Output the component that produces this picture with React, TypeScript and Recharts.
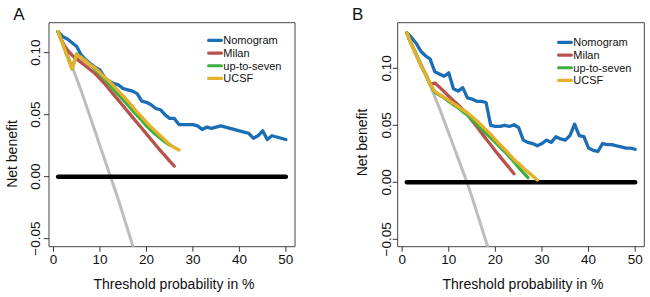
import React from 'react';
import { LineChart, Line, XAxis, YAxis, ReferenceArea, Legend } from 'recharts';

const FONT = '"Liberation Sans", Arial, Helvetica, sans-serif';

// thresholds (%)
const thresholds = [
  1, 2, 3, 4, 5, 6, 7, 8, 9, 10, 11, 12, 13, 14, 15, 16, 17, 18, 19, 20,
  21, 22, 23, 24, 25, 26, 27, 28, 29, 30, 31, 32, 33, 34, 35, 36, 37, 38, 39, 40,
  41, 42, 43, 44, 45, 46, 47, 48, 49, 50,
];

const xTicks = [0, 10, 20, 30, 40, 50];
const yTicks = [-0.05, 0, 0.05, 0.1];
const yTickLabels = ['\u22120.05', '0.00', '0.05', '0.10'];

const seriesNames = ['Nomogram', 'Milan', 'up-to-seven', 'UCSF'];
const seriesColors = ['#1b6db5', '#b8524d', '#3bb03e', '#e5b02a'];

// ---------- Panel A ----------
const nomogramA = [
  0.117, 0.113, 0.111, 0.108, 0.105, 0.098, 0.094, 0.091, 0.088, 0.086,
  0.080, 0.077, 0.075, 0.074, 0.071, 0.070, 0.069, 0.067, 0.061, 0.060,
  0.058, 0.055, 0.054, 0.050, 0.047, 0.047, 0.042, 0.042, 0.042, 0.042,
  0.041, 0.038, 0.040, 0.039, 0.040, 0.041, 0.040, 0.039, 0.038, 0.037,
  0.036, 0.035, 0.031, 0.033, 0.037, 0.030, 0.033, 0.032, 0.031, 0.030,
];
const milanA = [
  0.117, 0.108, 0.102, 0.098, 0.095, 0.092, 0.089, 0.086, 0.083, 0.079,
  0.075, 0.0705, 0.066, 0.0615, 0.057, 0.0525, 0.048, 0.0435, 0.039, 0.0345,
  0.030, 0.0255, 0.021, 0.017, 0.0125, 0.0085,
];
const upToSevenA = [
  0.117, 0.107, 0.097, 0.087, 0.099, 0.096, 0.093, 0.090, 0.0866, 0.0825,
  0.0785, 0.0745, 0.070, 0.066, 0.062, 0.0578, 0.0535, 0.0495, 0.0455, 0.041,
  0.0375, 0.034, 0.031, 0.028, 0.0255,
];
const ucsfA = [
  0.117, 0.107, 0.097, 0.087, 0.0985, 0.096, 0.093, 0.090, 0.0875, 0.084,
  0.080, 0.077, 0.073, 0.069, 0.065, 0.061, 0.0565, 0.052, 0.048, 0.044,
  0.040, 0.0365, 0.033, 0.0295, 0.026, 0.0235, 0.0215,
];
const treatAllA = [
  0.117, 0.108, 0.099, 0.089, 0.079, 0.069, 0.058, 0.047, 0.036, 0.025,
  0.014, 0.003, -0.008, -0.019, -0.031, -0.043, -0.055, -0.067,
];
const treatNoneA = [
  0, 0, 0, 0, 0, 0, 0, 0, 0, 0, 0, 0, 0, 0, 0, 0, 0, 0, 0, 0, 0, 0, 0, 0, 0,
  0, 0, 0, 0, 0, 0, 0, 0, 0, 0, 0, 0, 0, 0, 0, 0, 0, 0, 0, 0, 0, 0, 0, 0, 0,
];

// ---------- Panel B ----------
const nomogramB = [
  0.131, 0.127, 0.122, 0.115, 0.111, 0.108, 0.097, 0.095, 0.093, 0.096,
  0.082, 0.080, 0.083, 0.074, 0.073, 0.071, 0.071, 0.070, 0.050, 0.049,
  0.049, 0.050, 0.049, 0.0505, 0.048, 0.037, 0.035, 0.034, 0.032, 0.034,
  0.037, 0.035, 0.040, 0.038, 0.037, 0.041, 0.051, 0.041, 0.040, 0.030,
  0.028, 0.027, 0.034, 0.033, 0.033, 0.032, 0.031, 0.030, 0.030, 0.029,
];
const milanB = [
  0.131, 0.121, 0.112, 0.103, 0.095, 0.086, 0.087, 0.0835, 0.0795, 0.0755,
  0.0715, 0.068, 0.064, 0.0595, 0.054, 0.049, 0.0435, 0.038, 0.033, 0.0275,
  0.0225, 0.0175, 0.0125, 0.0075,
];
const upToSevenB = [
  0.131, 0.121, 0.112, 0.103, 0.095, 0.086, 0.079, 0.0765, 0.074, 0.071,
  0.068, 0.0655, 0.062, 0.059, 0.055, 0.051, 0.047, 0.043, 0.039, 0.035,
  0.031, 0.027, 0.0225, 0.018, 0.013, 0.0085, 0.004,
];
const ucsfB = [
  0.131, 0.121, 0.112, 0.103, 0.095, 0.086, 0.080, 0.077, 0.0745, 0.072,
  0.069, 0.0665, 0.0635, 0.061, 0.0575, 0.054, 0.050, 0.046, 0.042, 0.0375,
  0.033, 0.029, 0.0245, 0.020, 0.0165, 0.0125, 0.009, 0.0055, 0.002,
];
const treatAllB = [
  0.131, 0.122, 0.113, 0.104, 0.095, 0.085, 0.075, 0.065, 0.054, 0.043,
  0.032, 0.021, 0.010, -0.001, -0.013, -0.026, -0.039, -0.052, -0.065,
];
const treatNoneB = [
  0, 0, 0, 0, 0, 0, 0, 0, 0, 0, 0, 0, 0, 0, 0, 0, 0, 0, 0, 0, 0, 0, 0, 0, 0,
  0, 0, 0, 0, 0, 0, 0, 0, 0, 0, 0, 0, 0, 0, 0, 0, 0, 0, 0, 0, 0, 0, 0, 0, 0,
];

function buildRows(series: Record<string, number[]>) {
  return thresholds.map((t, i) => {
    const row: Record<string, number | undefined> = { t };
    Object.keys(series).forEach((k) => {
      row[k] = series[k][i];
    });
    return row;
  });
}

const rowsA = buildRows({
  all: treatAllA,
  none: treatNoneA,
  s0: nomogramA,
  s1: milanA,
  s2: upToSevenA,
  s3: ucsfA,
});
const rowsB = buildRows({
  all: treatAllB,
  none: treatNoneB,
  s0: nomogramB,
  s1: milanB,
  s2: upToSevenB,
  s3: ucsfB,
});

const X_DOMAIN: [number, number] = [-0.96, 51.96];
const ROW_H = 12.7;
const LEGEND_FS = 11;

type PanelProps = {
  rows: Record<string, number | undefined>[];
  letter: string;
  plotLeft: number;
  plotRight: number;
  yDomain: [number, number];
  yTickMargin: number;
  yLabelX: number;
  yLabelCenterY: number;
  legendLeft: number;
  legendTop: number;
  letterLeft: number;
};

const LegendBox = () => (
  <svg width={100} height={ROW_H * 4 + 2} style={{ display: 'block', overflow: 'visible' }}>
    {seriesNames.map((n, i) => {
      const cy = ROW_H / 2 + i * ROW_H;
      return (
        <g key={n}>
          <line
            x1={1.6}
            x2={14.4}
            y1={cy}
            y2={cy}
            stroke={seriesColors[i]}
            strokeWidth={3.2}
            strokeLinecap="round"
          />
          <text x={16.3} y={cy + 3.9} fontSize={LEGEND_FS} fontFamily={FONT} fill="#111">
            {n}
          </text>
        </g>
      );
    })}
  </svg>
);

function Panel(p: PanelProps) {
  const W = 325;
  const H = 297;
  const top = 22.7;
  const bottom = 246.7;
  const xAxisH = 30;
  const YTick = (props: any) => {
    const { x, y, payload } = props;
    const idx = yTicks.indexOf(payload.value);
    const label = idx >= 0 ? yTickLabels[idx] : String(payload.value);
    return (
      <text
        x={x}
        y={y}
        transform={`rotate(-90 ${x} ${y})`}
        textAnchor="middle"
        fontSize={13.5}
        fontFamily={FONT}
        fill="#111"
      >
        {label}
      </text>
    );
  };
  return (
    <div style={{ position: 'relative', width: W, height: H }}>
      <LineChart
        width={W}
        height={H}
        data={p.rows}
        margin={{ top, right: W - p.plotRight, bottom: H - bottom - xAxisH, left: 0 }}
      >
        <XAxis
          dataKey="t"
          type="number"
          domain={X_DOMAIN}
          allowDataOverflow
          ticks={xTicks}
          interval={0}
          height={xAxisH}
          axisLine={false}
          tickLine={{ stroke: '#333', strokeWidth: 1 }}
          tickSize={5}
          tickMargin={2.6}
          tick={{ fontSize: 13.5, fontFamily: FONT, fill: '#111' }}
          label={{
            content: (lp: any) => {
              const vb = lp.viewBox || {};
              const cx = (vb.x ?? 0) + (vb.width ?? 0) / 2 + 2;
              const by = (vb.y ?? 0) + 42.6;
              return (
                <text x={cx} y={by} textAnchor="middle" fontSize={14} fontFamily={FONT} fill="#111">
                  Threshold probability in %
                </text>
              );
            },
          }}
        />
        <YAxis
          type="number"
          domain={p.yDomain}
          allowDataOverflow
          ticks={yTicks}
          interval={0}
          width={p.plotLeft}
          axisLine={false}
          tickLine={{ stroke: '#333', strokeWidth: 1 }}
          tickSize={5}
          tickMargin={p.yTickMargin}
          tick={<YTick />}
          label={{
            content: () => (
              <text
                x={p.yLabelX}
                y={p.yLabelCenterY}
                transform={`rotate(-90 ${p.yLabelX} ${p.yLabelCenterY})`}
                textAnchor="middle"
                fontSize={14}
                fontFamily={FONT}
                fill="#111"
              >
                Net benefit
              </text>
            ),
          }}
        />
        <ReferenceArea
          x1={X_DOMAIN[0]}
          x2={X_DOMAIN[1]}
          y1={p.yDomain[0]}
          y2={p.yDomain[1]}
          fill="none"
          fillOpacity={0}
          stroke="#444"
          strokeWidth={1}
          ifOverflow="visible"
        />
        <Line
          dataKey="all"
          stroke="#bdbdbd"
          strokeWidth={3}
          dot={false}
          isAnimationActive={false}
          strokeLinecap="round"
          strokeLinejoin="round"
          legendType="none"
        />
        <Line
          dataKey="none"
          stroke="#000"
          strokeWidth={4.5}
          dot={false}
          isAnimationActive={false}
          strokeLinecap="round"
          legendType="none"
        />
        {['s0', 's1', 's2', 's3'].map((k, i) => (
          <Line
            key={k}
            dataKey={k}
            name={seriesNames[i]}
            stroke={seriesColors[i]}
            strokeWidth={3.3}
            dot={false}
            isAnimationActive={false}
            strokeLinecap="round"
            strokeLinejoin="round"
          />
        ))}
        <Legend
          layout="vertical"
          align="center"
          verticalAlign="middle"
          content={() => <LegendBox />}
          wrapperStyle={{ left: p.legendLeft, top: p.legendTop, width: 100, height: 'auto' }}
        />
      </LineChart>
      <div
        style={{
          position: 'absolute',
          left: p.letterLeft,
          top: 6.3,
          fontFamily: FONT,
          fontSize: 17,
          lineHeight: '17px',
          color: '#111',
        }}
      >
        {p.letter}
      </div>
    </div>
  );
}

export default function App() {
  return (
    <div
      style={{
        position: 'absolute',
        left: 0,
        top: 0,
        width: 650,
        height: 297,
        background: '#fff',
        display: 'flex',
      }}
    >
      <Panel
        rows={rowsA}
        letter="A"
        plotLeft={49}
        plotRight={295}
        yDomain={[-0.0565, 0.1242]}
        yTickMargin={3.5}
        yLabelX={16.7}
        yLabelCenterY={154}
        legendLeft={206.5}
        legendTop={34.2}
        letterLeft={13.3}
      />
      <Panel
        rows={rowsB}
        letter="B"
        plotLeft={72.7}
        plotRight={319.3}
        yDomain={[-0.0565, 0.14]}
        yTickMargin={2}
        yLabelX={41.7}
        yLabelCenterY={142.5}
        legendLeft={232.1}
        legendTop={36.2}
        letterLeft={27}
      />
    </div>
  );
}
